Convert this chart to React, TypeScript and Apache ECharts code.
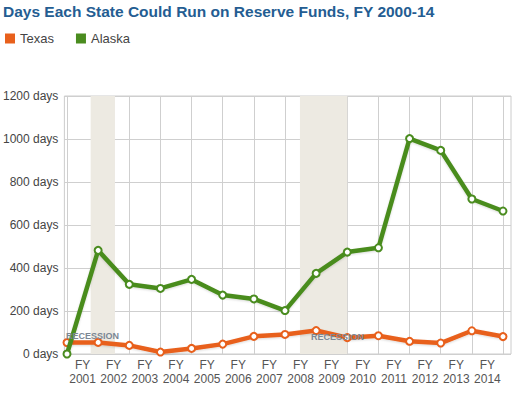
import React, { useEffect, useRef } from "react";
import * as echarts from "echarts";

const years = ["2000","2001","2002","2003","2004","2005","2006","2007","2008","2009","2010","2011","2012","2013","2014"];
const tickLabels = ["FY\n2001","FY\n2002","FY\n2003","FY\n2004","FY\n2005","FY\n2006","FY\n2007","FY\n2008","FY\n2009","FY\n2010","FY\n2011","FY\n2012","FY\n2013","FY\n2014"];
const texas = [53, 54, 40, 9, 26, 46, 82, 91, 109, 76, 85, 59, 51, 108, 81];
const alaska = [0, 482, 324, 305, 347, 274, 256, 202, 375, 474, 494, 1002, 947, 721, 665];
const recessions = [[0.76, 1.54], [7.48, 9.0]];

const TX = "#e8601c";
const AK = "#4a8c1f";

export default function App() {
  const ref = useRef<HTMLDivElement>(null);
  useEffect(() => {
    const chart = echarts.init(ref.current!, null, { renderer: "svg" });
    const font = "Arial, 'Liberation Sans', sans-serif";
    const mk = (vals: number[]) => vals.map((v, i) => [i, v]);
    chart.setOption({
      animation: false,
      title: {
        text: "Days Each State Could Run on Reserve Funds, FY 2000-14",
        left: 3,
        top: 3,
        padding: 0,
        textStyle: { color: "#245d92", fontSize: 15.5, fontWeight: "bold", fontFamily: font },
      },
      legend: {
        left: 0,
        top: 27,
        itemWidth: 10,
        itemHeight: 10,
        itemGap: 22,
        textStyle: { color: "#444", fontSize: 13, fontFamily: font },
        data: [
          { name: "Texas", icon: "rect", itemStyle: { color: TX, borderWidth: 0 } },
          { name: "Alaska", icon: "rect", itemStyle: { color: AK, borderWidth: 0 } },
        ],
      },
      grid: [
        { left: 60, right: 8, top: 96, bottom: 43, show: true, borderColor: "#cccccc", borderWidth: 1, backgroundColor: "transparent" },
        { left: 67, right: 16, top: 96, bottom: 43 },
      ],
      xAxis: [
        { gridIndex: 0, type: "value", min: 0, max: 1, show: false },
        {
          gridIndex: 1, type: "value", min: 0, max: 14, interval: 1,
          axisLine: { show: false }, axisTick: { show: false }, axisLabel: { show: false },
          splitLine: { show: true, lineStyle: { color: "#cfcfcf", width: 1 } },
        },
        {
          gridIndex: 1, type: "category", data: tickLabels, boundaryGap: true, position: "bottom",
          axisLine: { show: false }, axisTick: { show: false }, splitLine: { show: false },
          axisLabel: { color: "#555", fontSize: 12, fontFamily: font, lineHeight: 14, margin: 4, interval: 0 },
        },
      ],
      yAxis: [
        {
          gridIndex: 0, type: "value", min: 0, max: 1200, interval: 200,
          axisLine: { show: false }, axisTick: { show: false },
          axisLabel: { formatter: (v: number) => `${v} days`, color: "#444", fontSize: 12, fontFamily: font, margin: 6 },
          splitLine: { show: true, lineStyle: { color: "#cfcfcf", width: 1 } },
        },
        { gridIndex: 1, type: "value", min: 0, max: 1200, interval: 200, show: false, splitLine: { show: false } },
      ],
      series: [
        {
          name: "Texas", type: "line", xAxisIndex: 1, yAxisIndex: 1, data: mk(texas),
          color: TX,
          symbol: "circle", symbolSize: 7, showSymbol: true,
          lineStyle: { width: 4.5, color: TX, shadowColor: "rgba(0,0,0,0.15)", shadowBlur: 2, shadowOffsetY: 1 },
          itemStyle: { color: "#ffffff", borderColor: TX, borderWidth: 2 },
          markArea: {
            silent: true,
            itemStyle: { color: "#edeae2" },
            data: recessions.map(([a, b]) => [{ xAxis: a }, { xAxis: b }]),
          },
          z: 3,
        },
        {
          name: "Alaska", type: "line", xAxisIndex: 1, yAxisIndex: 1, data: mk(alaska),
          color: AK,
          symbol: "circle", symbolSize: 7, showSymbol: true,
          lineStyle: { width: 4.5, color: AK, shadowColor: "rgba(0,0,0,0.15)", shadowBlur: 2, shadowOffsetY: 1 },
          itemStyle: { color: "#ffffff", borderColor: AK, borderWidth: 2 },
          z: 4,
        },
      ],
      graphic: [
        { type: "text", left: 66, top: 331, z: 100, style: { text: "RECESSION", fill: "#7b8794", font: "bold 9px Arial, sans-serif" } },
        { type: "text", left: 311, top: 332, z: 100, style: { text: "RECESSION", fill: "#7b8794", font: "bold 9px Arial, sans-serif" } },
      ],
    });
    return () => chart.dispose();
  }, []);
  return <div ref={ref} style={{ width: 519, height: 397, position: "absolute", left: 0, top: 0 }} />;
}
